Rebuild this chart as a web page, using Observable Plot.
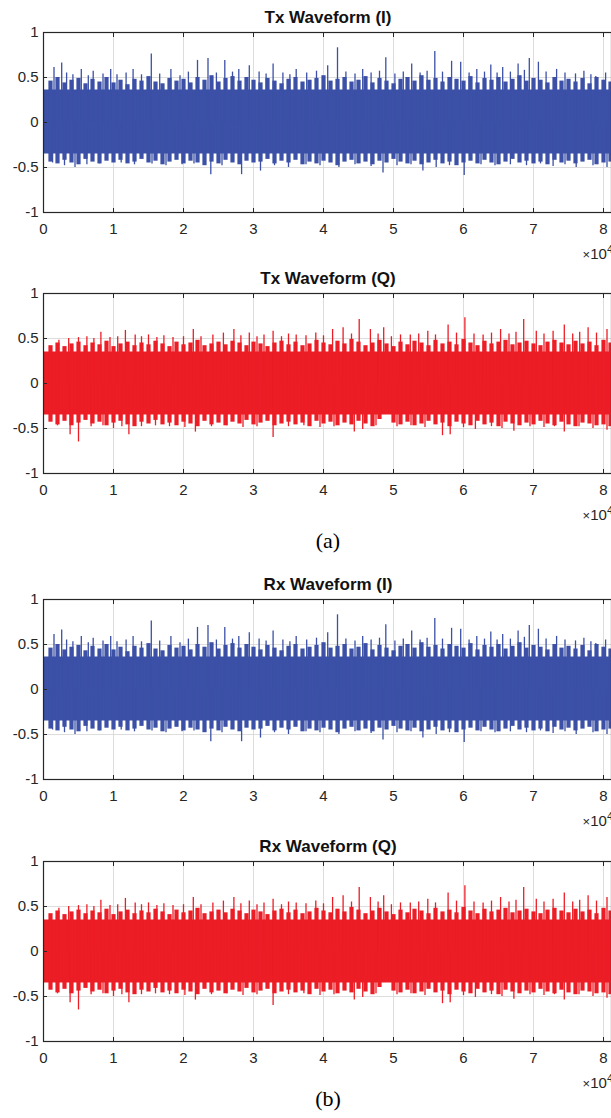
<!DOCTYPE html>
<html><head><meta charset="utf-8">
<script src="https://cdn.jsdelivr.net/npm/d3@7"></script>
<script src="https://cdn.jsdelivr.net/npm/@observablehq/plot@0.6"></script>
<style>
html,body{margin:0;padding:0;background:#fff;}
body{width:611px;height:1118px;overflow:hidden;position:relative;font-family:"Liberation Sans",Arial,Helvetica,sans-serif;}
.panel{position:absolute;left:0;}
.title{position:absolute;left:43px;width:570px;text-align:center;font-weight:bold;font-size:17px;line-height:20px;color:#111;}
.expo{position:absolute;right:-2px;font-size:15px;line-height:18px;color:#262626;}
.expo sup{font-size:11px;vertical-align:6px;line-height:0;}
.cap{position:absolute;left:0;width:656px;text-align:center;font-family:"Liberation Serif","Times New Roman",serif;font-size:22px;line-height:24px;color:#000;}
</style></head><body>
<script>
// ---- data (x in units of 10^4 samples) ----
const xTicks = [0, 1, 2, 3, 4, 5, 6, 7, 8];
const yTicks = [-1, -0.5, 0, 0.5, 1];
const titles = ["Tx Waveform (I)", "Tx Waveform (Q)", "Rx Waveform (I)", "Rx Waveform (Q)"];
const captions = ["(a)", "(b)"];

// solid core of the waveform band [min, max]
const iCore = [-0.35, 0.36];
const qCore = [-0.35, 0.35];
const waveExtent = [0, 8.2];

// fringe envelope of the band, sampled every 0.1 (x 10^4)
const iUpperEnv = [0.34,0.46,0.50,0.44,0.47,0.49,0.43,0.48,0.45,0.50,
  0.44,0.47,0.42,0.48,0.46,0.51,0.45,0.43,0.49,0.46,
  0.48,0.44,0.50,0.47,0.52,0.45,0.49,0.51,0.46,0.50,
  0.47,0.44,0.49,0.46,0.43,0.48,0.50,0.45,0.47,0.49,
  0.52,0.46,0.48,0.50,0.45,0.47,0.51,0.44,0.49,0.46,
  0.43,0.48,0.50,0.46,0.52,0.47,0.49,0.45,0.50,0.48,
  0.46,0.51,0.44,0.49,0.47,0.50,0.45,0.48,0.52,0.46,
  0.49,0.47,0.44,0.50,0.46,0.48,0.45,0.49,0.43,0.50,
  0.47,0.45,0.46];
const iLowerEnv = [-0.33,-0.44,-0.46,-0.42,-0.45,-0.47,-0.41,-0.44,-0.46,-0.43,
  -0.45,-0.42,-0.46,-0.44,-0.41,-0.45,-0.43,-0.47,-0.44,-0.42,
  -0.46,-0.43,-0.45,-0.48,-0.44,-0.46,-0.42,-0.45,-0.47,-0.43,
  -0.45,-0.44,-0.41,-0.46,-0.43,-0.45,-0.42,-0.47,-0.44,-0.46,
  -0.43,-0.45,-0.48,-0.44,-0.42,-0.46,-0.44,-0.47,-0.43,-0.45,
  -0.41,-0.44,-0.46,-0.43,-0.47,-0.45,-0.42,-0.46,-0.44,-0.48,
  -0.45,-0.43,-0.46,-0.42,-0.45,-0.47,-0.44,-0.41,-0.45,-0.43,
  -0.46,-0.44,-0.47,-0.42,-0.45,-0.43,-0.46,-0.44,-0.42,-0.47,
  -0.45,-0.44,-0.46];
const qUpperEnv = [0.33,0.42,0.45,0.41,0.44,0.46,0.42,0.45,0.43,0.47,
  0.41,0.44,0.46,0.42,0.45,0.43,0.47,0.44,0.41,0.46,
  0.43,0.45,0.48,0.42,0.44,0.46,0.43,0.47,0.45,0.42,
  0.46,0.44,0.41,0.45,0.47,0.43,0.46,0.42,0.44,0.48,
  0.45,0.43,0.47,0.44,0.49,0.46,0.42,0.45,0.48,0.44,
  0.41,0.46,0.43,0.47,0.45,0.42,0.48,0.44,0.46,0.43,
  0.49,0.45,0.42,0.47,0.44,0.46,0.48,0.43,0.45,0.47,
  0.44,0.42,0.46,0.48,0.45,0.43,0.47,0.44,0.46,0.42,
  0.48,0.45,0.44];
const qLowerEnv = [-0.33,-0.43,-0.46,-0.42,-0.47,-0.44,-0.41,-0.45,-0.43,-0.47,
  -0.44,-0.42,-0.46,-0.48,-0.43,-0.45,-0.41,-0.46,-0.44,-0.47,
  -0.43,-0.45,-0.48,-0.42,-0.46,-0.44,-0.47,-0.43,-0.45,-0.41,
  -0.46,-0.44,-0.42,-0.47,-0.45,-0.43,-0.46,-0.44,-0.48,-0.42,
  -0.45,-0.43,-0.47,-0.44,-0.46,-0.42,-0.45,-0.48,-0.40,-0.30,
  -0.44,-0.46,-0.43,-0.47,-0.45,-0.42,-0.46,-0.44,-0.48,-0.43,
  -0.45,-0.47,-0.42,-0.46,-0.44,-0.48,-0.43,-0.45,-0.47,-0.44,
  -0.46,-0.42,-0.45,-0.47,-0.43,-0.46,-0.48,-0.44,-0.45,-0.47,
  -0.46,-0.48,-0.47];

// individual spikes [x (x10^4), value]
const iUpperSpikes = [[0.15,0.61],[0.26,0.66],[0.33,0.55],[0.42,0.53],[0.54,0.59],[0.64,0.52],[0.71,0.57],[0.85,0.54],[0.96,0.59],[1.05,0.53],[1.18,0.55],[1.28,0.59],[1.40,0.53],[1.54,0.76],[1.66,0.54],[1.82,0.59],[1.95,0.52],[2.07,0.56],[2.20,0.69],[2.35,0.71],[2.47,0.55],[2.59,0.69],[2.70,0.56],[2.79,0.59],[2.94,0.63],[3.08,0.56],[3.18,0.54],[3.28,0.65],[3.42,0.55],[3.52,0.53],[3.61,0.59],[3.76,0.55],[3.90,0.57],[4.06,0.63],[4.20,0.83],[4.32,0.56],[4.45,0.54],[4.56,0.59],[4.68,0.55],[4.80,0.57],[4.89,0.72],[5.02,0.54],[5.14,0.56],[5.26,0.65],[5.38,0.55],[5.48,0.57],[5.59,0.79],[5.70,0.56],[5.83,0.68],[5.96,0.67],[6.08,0.55],[6.19,0.59],[6.30,0.56],[6.39,0.64],[6.48,0.55],[6.56,0.61],[6.67,0.56],[6.78,0.65],[6.87,0.58],[6.94,0.71],[7.07,0.67],[7.18,0.56],[7.33,0.59],[7.45,0.55],[7.60,0.54],[7.72,0.57],[7.82,0.53],[7.89,0.51],[8.03,0.55]];
const iLowerSpikes = [[0.13,-0.45],[0.30,-0.48],[0.45,-0.50],[0.62,-0.47],[0.80,-0.46],[1.11,-0.45],[1.30,-0.47],[1.55,-0.46],[1.75,-0.48],[1.98,-0.47],[2.15,-0.46],[2.39,-0.58],[2.55,-0.48],[2.83,-0.58],[3.10,-0.54],[3.30,-0.48],[3.50,-0.50],[3.75,-0.47],[3.95,-0.48],[4.22,-0.50],[4.45,-0.47],[4.68,-0.49],[4.85,-0.56],[5.05,-0.48],[5.25,-0.47],[5.42,-0.54],[5.61,-0.50],[5.80,-0.48],[6.01,-0.59],[6.25,-0.47],[6.45,-0.48],[6.67,-0.47],[6.90,-0.48],[7.10,-0.46],[7.28,-0.49],[7.45,-0.47],[7.61,-0.50],[7.85,-0.48],[8.05,-0.50]];
const qUpperSpikes = [[0.22,0.48],[0.36,0.50],[0.50,0.51],[0.62,0.52],[0.72,0.50],[0.82,0.57],[0.95,0.51],[1.06,0.52],[1.17,0.59],[1.31,0.54],[1.40,0.52],[1.50,0.54],[1.62,0.51],[1.72,0.53],[1.85,0.51],[2.00,0.52],[2.14,0.60],[2.25,0.52],[2.42,0.54],[2.57,0.56],[2.72,0.60],[2.82,0.53],[2.94,0.56],[3.05,0.52],[3.15,0.54],[3.28,0.58],[3.40,0.52],[3.50,0.55],[3.61,0.54],[3.75,0.53],[3.89,0.56],[4.00,0.53],[4.13,0.60],[4.28,0.62],[4.40,0.55],[4.51,0.71],[4.67,0.60],[4.78,0.55],[4.86,0.62],[4.97,0.52],[5.10,0.54],[5.24,0.54],[5.36,0.55],[5.49,0.58],[5.60,0.54],[5.78,0.65],[5.90,0.56],[6.02,0.73],[6.15,0.55],[6.28,0.54],[6.40,0.56],[6.53,0.60],[6.65,0.55],[6.75,0.57],[6.86,0.71],[7.04,0.58],[7.15,0.55],[7.28,0.58],[7.44,0.65],[7.56,0.55],[7.66,0.57],[7.78,0.62],[7.90,0.56],[8.05,0.60]];
const qLowerSpikes = [[0.20,-0.47],[0.38,-0.57],[0.50,-0.65],[0.68,-0.48],[0.85,-0.47],[1.00,-0.50],[1.12,-0.48],[1.22,-0.57],[1.40,-0.48],[1.60,-0.47],[1.80,-0.48],[2.02,-0.49],[2.17,-0.54],[2.40,-0.48],[2.62,-0.47],[2.85,-0.49],[3.05,-0.48],[3.28,-0.60],[3.50,-0.48],[3.72,-0.47],[3.95,-0.49],[4.15,-0.48],[4.44,-0.54],[4.56,-0.51],[4.75,-0.47],[5.05,-0.48],[5.25,-0.47],[5.45,-0.49],[5.70,-0.58],[5.81,-0.57],[6.00,-0.49],[6.17,-0.51],[6.40,-0.48],[6.55,-0.50],[6.72,-0.53],[6.95,-0.48],[7.15,-0.49],[7.30,-0.48],[7.44,-0.54],[7.65,-0.48],[7.85,-0.50],[8.05,-0.52]];

// Rx waveforms are the same as the transmitted ones
const series = [
  {core: iCore, up: iUpperEnv, lo: iLowerEnv, us: iUpperSpikes, ls: iLowerSpikes, color: "#3b50a6"},
  {core: qCore, up: qUpperEnv, lo: qLowerEnv, us: qUpperSpikes, ls: qLowerSpikes, color: "#ec1d25"},
  {core: iCore, up: iUpperEnv, lo: iLowerEnv, us: iUpperSpikes, ls: iLowerSpikes, color: "#3b50a6"},
  {core: qCore, up: qUpperEnv, lo: qLowerEnv, us: qUpperSpikes, ls: qLowerSpikes, color: "#ec1d25"}
];

// ---- layout ----
const panelTops = [0, 261, 567, 829];
const capTops = [529, 1087];
const W = 611, ML = 43, MT = 32, IH = 180, MB = 56;
const xMax = (W - ML) / 70; // frame continues past the right edge

series.forEach((s, k) => {
  const env = s.up.map((u, i) => ({x: i / 10, hi: u, lo: s.lo[i]})).slice(1);
  const chart = Plot.plot({
    width: W, height: MT + IH + MB,
    marginTop: MT, marginBottom: MB, marginLeft: ML, marginRight: 0,
    x: {domain: [0, xMax], label: null},
    y: {domain: [-1, 1], label: null},
    style: {fontFamily: "'Liberation Sans', Arial, Helvetica, sans-serif", fontSize: "15px", color: "#262626", background: "white", overflow: "visible"},
    marks: [
      Plot.gridX(xTicks, {stroke: "#d4d4d4", strokeOpacity: 1, strokeWidth: 0.8}),
      Plot.gridY(yTicks, {stroke: "#d4d4d4", strokeOpacity: 1, strokeWidth: 0.8}),
      Plot.areaY(waveExtent, {x: d => d, y1: s.core[0], y2: s.core[1], fill: s.color, clip: true}),
      Plot.ruleX(env, {x: "x", y1: 0, y2: "hi", stroke: s.color, strokeWidth: 4.2, clip: true}),
      Plot.ruleX(env, {x: "x", y1: 0, y2: "lo", stroke: s.color, strokeWidth: 4.2, clip: true}),
      Plot.ruleX(s.us, {x: d => d[0], y1: 0, y2: d => d[1], stroke: s.color, strokeWidth: 1.3}),
      Plot.ruleX(s.ls, {x: d => d[0], y1: 0, y2: d => d[1], stroke: s.color, strokeWidth: 1.3}),
      Plot.frame({stroke: "#262626", strokeWidth: 1.2}),
      Plot.axisX(xTicks, {anchor: "bottom", tickSize: 4, dy: -4, fill: "none", label: null, stroke: "#262626"}),
      Plot.axisX(xTicks, {anchor: "top", tickSize: 4, dy: 4, fill: "none", label: null, stroke: "#262626"}),
      Plot.axisY(yTicks, {anchor: "left", tickSize: 4, dx: 4, fill: "none", label: null, stroke: "#262626"}),
      Plot.axisX(xTicks, {anchor: "bottom", tickSize: 0, tickPadding: 11, tickFormat: d => String(d), label: null, fill: "#262626"}),
      Plot.axisY(yTicks, {anchor: "left", tickSize: 0, tickPadding: 5, tickFormat: d => String(d), label: null, fill: "#262626"})
    ]
  });
  const wrap = document.createElement("div");
  wrap.className = "panel";
  wrap.style.top = panelTops[k] + "px";
  wrap.appendChild(chart);
  document.body.appendChild(wrap);

  const t = document.createElement("div");
  t.className = "title";
  t.style.top = (panelTops[k] + MT - 24) + "px";
  t.textContent = titles[k];
  document.body.appendChild(t);

  const e = document.createElement("div");
  e.className = "expo";
  e.style.top = (panelTops[k] + MT + IH + 33) + "px";
  e.innerHTML = "<span style='font-size:13px'>×</span>10<sup>4</sup>";
  document.body.appendChild(e);
});

captions.forEach((c, i) => {
  const d = document.createElement("div");
  d.className = "cap";
  d.style.top = capTops[i] + "px";
  d.textContent = c;
  document.body.appendChild(d);
});
</script>
</body></html>
